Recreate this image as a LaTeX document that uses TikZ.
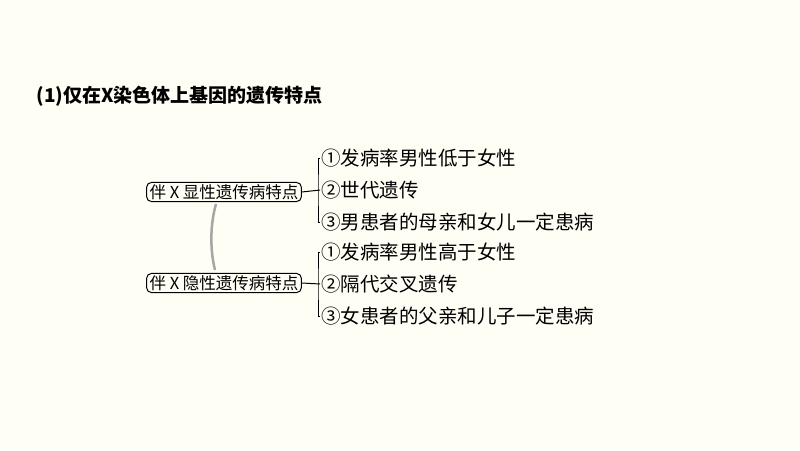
\documentclass[tikz,border=0pt]{standalone}
\usepackage{fontspec}
\setmainfont{Noto Sans CJK SC}
\usetikzlibrary{positioning}

\begin{document}
\begin{tikzpicture}[x=1pt,y=-1pt,
  topic/.style={draw,line width=1pt,rounded corners=5pt,inner xsep=3pt,inner ysep=2pt,font=\fontsize{16.5}{18}\selectfont},
  item/.style={anchor=west,inner sep=1pt,font=\fontsize{19.5}{21}\selectfont}]
  \useasboundingbox[fill=white!96!yellow] (0,0) rectangle (800,450);
  \node[anchor=west,font=\bfseries\fontsize{19}{21}\selectfont] (Title) at (33,96) {(1)仅在X染色体上基因的遗传特点};

  \node[topic] (Dom) at (224,192) {伴 X 显性遗传病特点};
  \node[topic] (Rec) at (224,283) {伴 X 隐性遗传病特点};

  \node[item] (D1) at (320,158) {①发病率男性低于女性};
  \node[item] (D2) at (320,190) {②世代遗传};
  \node[item] (D3) at (320,222) {③男患者的母亲和女儿一定患病};
  \node[item] (R1) at (320,252) {①发病率男性高于女性};
  \node[item] (R2) at (320,284) {②隔代交叉遗传};
  \node[item] (R3) at (320,316) {③女患者的父亲和儿子一定患病};

  \draw[gray!70,line width=2.5pt] (216,204) .. controls (210,225) and (210,250) .. (215,270);

  \draw[line width=1pt] (Dom.east) -- (D2.west);
  \draw[line width=1pt] (D1.west) -| (318,190) |- (D3.west);
  \draw[line width=1pt] (Rec.east) -- (R2.west);
  \draw[line width=1pt] (R1.west) -| (318,284) |- (R3.west);
\end{tikzpicture}
\end{document}
